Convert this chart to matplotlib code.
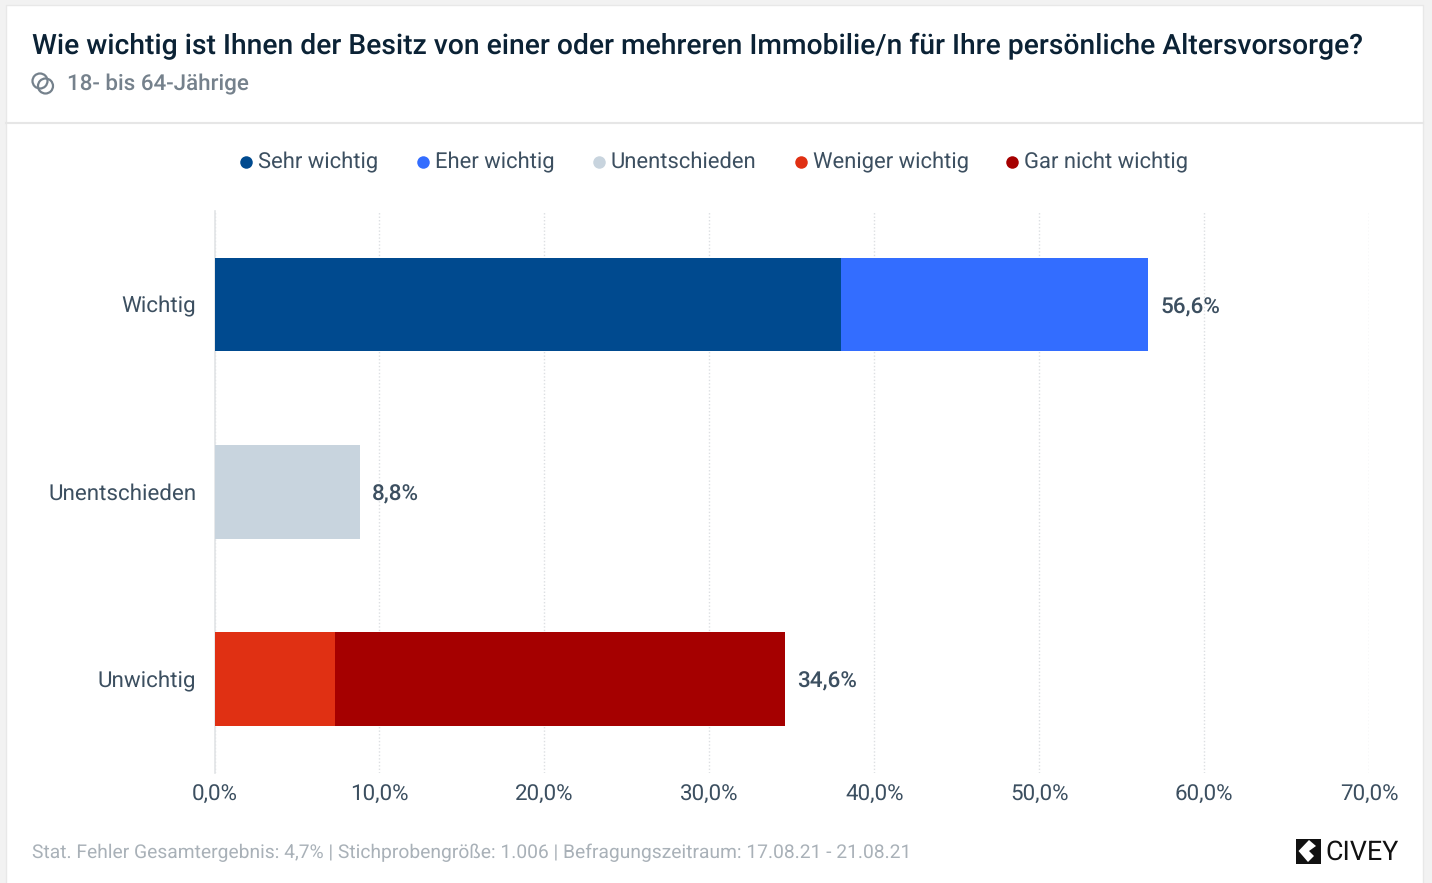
import matplotlib.pyplot as plt
from matplotlib.patches import Circle, Polygon, Rectangle

plt.rcParams['font.family'] = ['Roboto', 'DejaVu Sans']
plt.rcParams['text.hinting'] = 'no_hinting'

# Data
categories = ['Wichtig', 'Unentschieden', 'Unwichtig']
series_names = ['Sehr wichtig', 'Eher wichtig', 'Unentschieden', 'Weniger wichtig', 'Gar nicht wichtig']
series_colors = ['#004a8f', '#336dff', '#c8d4de', '#e03013', '#a50000']
sehr_wichtig = [38.0, 0, 0]
eher_wichtig = [18.6, 0, 0]
unentschieden = [0, 8.8, 0]
weniger_wichtig = [0, 0, 7.3]
gar_nicht_wichtig = [0, 0, 27.3]
totals = ['56,6%', '8,8%', '34,6%']
x_ticks = [0, 10, 20, 30, 40, 50, 60, 70]

W, H = 1432, 883
TEXT = '#3c4f60'

fig = plt.figure(figsize=(W / 100, H / 100), dpi=100, facecolor='#f2f2f2')

# Background layer in pixel coordinates: card, divider, icons, legend
bg = fig.add_axes([0, 0, 1, 1], zorder=0)
bg.set_xlim(0, W)
bg.set_ylim(H, 0)
bg.axis('off')
bg.add_patch(Rectangle((6, 5), 1417, 882, fc='white', ec='#e8e8e8', lw=1))
bg.plot([6, 1423], [123, 123], color='#e6e6e6', lw=1.5)

# Audience icon
bg.add_patch(Circle((40, 81), 7.5, fc='none', ec='#75818c', lw=1.6))
bg.add_patch(Circle((45.5, 86), 7.5, fc='none', ec='#75818c', lw=1.6))

# Civey logo
bg.add_patch(Rectangle((1296, 839), 25, 25, fc='#111111', ec='none'))
bg.add_patch(Polygon([(1298.5, 851), (1309, 840), (1316, 846), (1309, 851), (1314, 856), (1308, 862)], fc='white', ec='none'))

fig.text(32 / W, 1 - 54.5 / H, 'Wie wichtig ist Ihnen der Besitz von einer oder mehreren Immobilie/n für Ihre persönliche Altersvorsorge?',
         fontsize=20.31, fontweight='medium', color='#0b2235', va='baseline', ha='left')
fig.text(67 / W, 1 - 90.5 / H, '18- bis 64-Jährige', fontsize=16.15, fontweight='medium', color='#75818c', va='baseline', ha='left')
fig.text(32 / W, 1 - 858 / H, 'Stat. Fehler Gesamtergebnis: 4,7% | Stichprobengröße: 1.006 | Befragungszeitraum: 17.08.21 - 21.08.21',
         fontsize=13.85, color='#a9b1b8', va='baseline', ha='left')
fig.text(1325 / W, 1 - 860 / H, 'CIVEY', fontsize=19.4, color='#111111', va='baseline', ha='left')

# Legend drawn by hand so all labels share one baseline
legend_dots = [246, 423, 599, 801, 1012]
for dot_x, name, color in zip(legend_dots, series_names, series_colors):
    bg.plot([dot_x], [161.5], ls='none', marker='o', ms=9, color=color, mew=0)
    bg.text(dot_x + 12, 168, name, fontsize=15.85, color=TEXT, va='baseline', ha='left')

# Chart
ax = fig.add_axes([214.5 / W, 1 - 772.5 / H, (1369 - 214.5) / W, (772.5 - 211) / H], zorder=1)
ax.patch.set_alpha(0)
positions = range(len(categories))
left = [0, 0, 0]
for values, name, color in zip([sehr_wichtig, eher_wichtig, unentschieden, weniger_wichtig, gar_nicht_wichtig],
                               series_names, series_colors):
    ax.barh(positions, values, height=0.5, left=left, color=color, zorder=3)
    left = [a + b for a, b in zip(left, values)]

for pos, end, label in zip(positions, left, totals):
    ax.annotate(label, (end, pos), xytext=(8.8, -1.8), textcoords='offset points', va='center', ha='left',
                fontsize=16.2, fontweight='medium', color=TEXT)

ax.set_xlim(0, 70)
ax.set_ylim(2.5, -0.5)
ax.set_yticks(list(positions), categories)
ax.set_xticks(x_ticks, [f'{t},0%' for t in x_ticks])
ax.tick_params(axis='both', length=0, labelsize=16.1, labelcolor=TEXT)
ax.tick_params(axis='x', pad=8)
ax.tick_params(axis='y', pad=13.2)
ax.grid(axis='x', color='#dcdfe2', lw=1, ls=(0, (1, 1.5)), zorder=0)
ax.set_axisbelow(True)
for name in ['top', 'right', 'bottom']:
    ax.spines[name].set_visible(False)
ax.spines['left'].set_color('#e2e4e6')
ax.spines['left'].set_linewidth(1.2)

fig.savefig('out.png', dpi=100, facecolor=fig.get_facecolor())
